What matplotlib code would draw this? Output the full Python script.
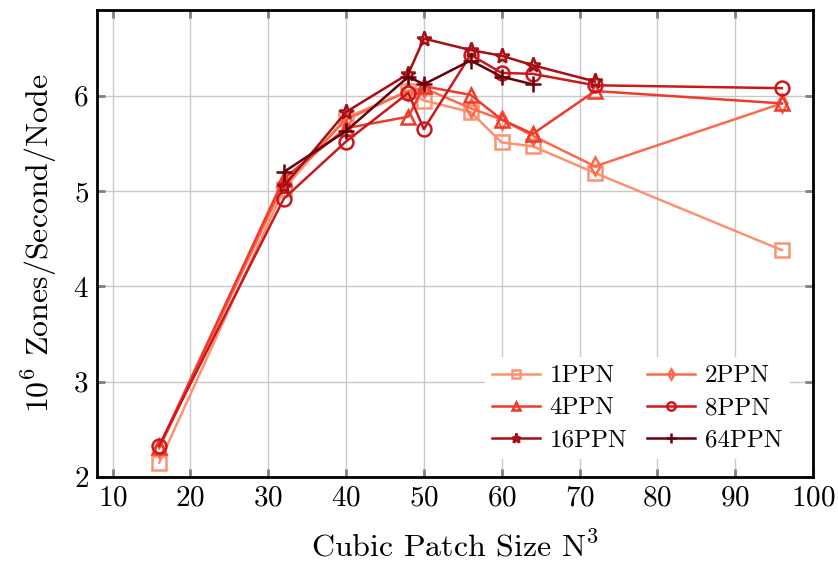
import numpy as np
import matplotlib
matplotlib.use("Agg")
import matplotlib.pyplot as plt

plt.rcParams["font.family"] = "serif"
plt.rcParams["font.serif"] = ["cmr10", "DejaVu Serif"]
plt.rcParams["mathtext.fontset"] = "cm"
plt.rcParams["axes.formatter.use_mathtext"] = True

# datos
n_full = [16, 32, 40, 48, 50, 56, 60, 64, 72, 96]
n_big = [32, 40, 48, 50, 56, 60, 64, 72]
n_64 = [32, 40, 48, 50, 56, 60, 64]

ppn1 = [2.15, 5.02, 5.77, 6.05, 5.95, 5.83, 5.51, 5.47, 5.19, 4.38]
ppn2 = [2.30, 5.08, 5.75, 6.05, 6.08, 5.87, 5.75, 5.58, 5.26, 5.92]
ppn4 = [2.32, 5.13, 5.66, 5.78, 6.10, 6.01, 5.75, 5.60, 6.05, 5.92]
ppn8 = [2.33, 4.92, 5.52, 6.03, 5.65, 6.43, 6.24, 6.23, 6.11, 6.08]
ppn16 = [5.05, 5.83, 6.23, 6.60, 6.48, 6.42, 6.32, 6.15]
ppn64 = [5.20, 5.63, 6.20, 6.12, 6.37, 6.20, 6.12]

series = [
    ("1PPN", n_full, ppn1, "s", "#fc9272", 10),
    ("2PPN", n_full, ppn2, "d", "#fb6a4a", 9),
    ("4PPN", n_full, ppn4, "^", "#ef3b2c", 10),
    ("8PPN", n_full, ppn8, "o", "#cb181d", 10),
    ("16PPN", n_big, ppn16, "*", "#a50f15", 11),
    ("64PPN", n_64, ppn64, "+", "#67000d", 12),
]

fig = plt.figure(figsize=(8.38, 5.61), dpi=100)
ax = fig.add_axes([97/838, 1-477/561, (813-97)/838, (477-10)/561])

lineas = {}
for nom, xs, ys, mk, c, ms in series:
    l, = ax.plot(xs, ys, marker=mk, color=c, lw=1.8, ms=ms, mfc="none",
                 mew=1.8, label=nom, zorder=3)
    lineas[nom] = l

ax.set_xlim(8, 100)
ax.set_ylim(2, 6.9)
ax.set_xticks(np.arange(10, 101, 10))
ax.set_yticks([2, 3, 4, 5, 6])
ax.grid(True, color="#c8c8c8", lw=1)
ax.tick_params(direction="in", length=6, width=2, color="#808080",
               top=True, right=True, labelsize=21, pad=6)
for s in ax.spines.values():
    s.set_linewidth(2)
ax.set_xlabel(r"Cubic Patch Size N$^3$", fontsize=23, labelpad=14)
ax.set_ylabel(r"10$^6$ Zones/Second/Node", fontsize=23, labelpad=10)

# orden por filas: 1,2 / 4,8 / 16,64
orden = ["1PPN", "4PPN", "16PPN", "2PPN", "8PPN", "64PPN"]
leg = ax.legend([lineas[k] for k in orden], orden, ncol=2, loc="lower right",
                bbox_to_anchor=(0.985, 0.012), fontsize=18, frameon=True,
                fancybox=False, edgecolor="none", framealpha=1,
                handlelength=1.9, columnspacing=0.8, handletextpad=0.4,
                labelspacing=0.38, markerscale=0.6, borderpad=0.3)

fig.savefig("out.png", dpi=100)
